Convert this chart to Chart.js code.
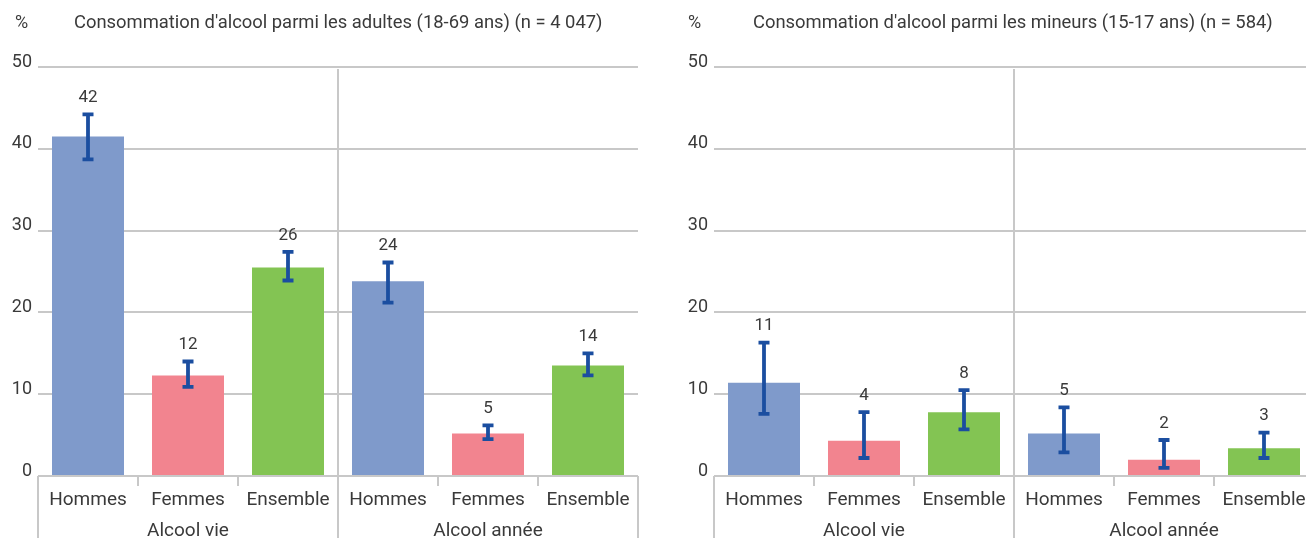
<!DOCTYPE html>
<html lang="fr">
<head>
<meta charset="utf-8">
<title>Consommation d'alcool</title>
<script src="https://cdn.jsdelivr.net/npm/chart.js@4/dist/chart.umd.min.js"></script>
<style>
  html, body { margin: 0; padding: 0; background: #fff; overflow: hidden; width: 1306px; height: 540px; }
  .panel { position: absolute; top: 0; }
</style>
</head>
<body>
<canvas id="adultes" class="panel" width="660" height="540" style="left:0px"></canvas>
<canvas id="mineurs" class="panel" width="660" height="540" style="left:676px"></canvas>
<script>
// Categories and groups of the two-level x axis
const categories = ['Hommes', 'Femmes', 'Ensemble'];
const groups = ['Alcool vie', 'Alcool année'];
const yTicks = [0, 10, 20, 30, 40, 50];

// Adults (18-69 years): percentages and confidence intervals
const adultValues = [41.5, 12.3, 25.5, 23.8, 5.2, 13.5];
const adultLow    = [38.7, 10.9, 23.9, 21.2, 4.5, 12.3];
const adultHigh   = [44.2, 14.0, 27.4, 26.1, 6.2, 15.0];

// Minors (15-17 years): percentages and confidence intervals
const minorValues = [11.4, 4.3, 7.8, 5.2, 2.0, 3.4];
const minorLow    = [7.6, 2.2, 5.7, 2.9, 1.0, 2.2];
const minorHigh   = [16.3, 7.8, 10.5, 8.4, 4.4, 5.3];

const barColors = ['#7f9acb', '#f2848f', '#83c453'];
const errColor = '#1b4ea0';
const textColor = '#3a3a3a';
const gridColor = '#c8c8c8';
const FONT = 'Roboto, "Noto Sans", sans-serif';

// Plugin: title line, error bars, value labels and the grouped axis decoration
const decor = {
  id: 'decor',
  afterDatasetsDraw(chart, args, opts) {
    const ctx = chart.ctx;
    const y = chart.scales.y;
    const meta = chart.getDatasetMeta(0);
    ctx.save();
    // error bars
    ctx.strokeStyle = errColor;
    ctx.lineWidth = 3.8;
    meta.data.forEach((bar, i) => {
      const yl = y.getPixelForValue(opts.low[i]);
      const yh = y.getPixelForValue(opts.high[i]);
      ctx.beginPath();
      ctx.moveTo(bar.x, yl); ctx.lineTo(bar.x, yh);
      ctx.moveTo(bar.x - 5.5, yl); ctx.lineTo(bar.x + 5.5, yl);
      ctx.moveTo(bar.x - 5.5, yh); ctx.lineTo(bar.x + 5.5, yh);
      ctx.stroke();
    });
    // value labels above the error bars
    ctx.fillStyle = textColor;
    ctx.font = '17px ' + FONT;
    ctx.textAlign = 'center';
    ctx.textBaseline = 'bottom';
    const values = chart.data.datasets[0].data;
    meta.data.forEach((bar, i) => {
      const yh = y.getPixelForValue(opts.high[i]);
      ctx.fillText(String(Math.round(values[i])), bar.x, yh - 8);
    });
    ctx.restore();
  },
  afterDraw(chart, args, opts) {
    const ctx = chart.ctx;
    const x = chart.scales.x;
    const area = chart.chartArea;
    const n = chart.data.labels.length;
    ctx.save();
    // axis ticks between categories and group separators
    ctx.strokeStyle = gridColor;
    ctx.lineWidth = 2;
    const bounds = [];
    for (let i = 0; i <= n; i++) {
      if (i === 0) bounds.push(x.left);
      else if (i === n) bounds.push(x.right);
      else bounds.push((x.getPixelForValue(i - 1) + x.getPixelForValue(i)) / 2);
    }
    bounds.forEach((bx, i) => {
      const px = Math.round(bx);
      ctx.beginPath();
      if (i % categories.length === 0) {
        const top = (i === 0 || i === n) ? area.bottom : area.top + 2;
        ctx.moveTo(px, top);
        ctx.lineTo(px, chart.height - 2);
      } else {
        ctx.moveTo(px, area.bottom);
        ctx.lineTo(px, area.bottom + 10);
      }
      ctx.stroke();
    });
    // group labels
    ctx.fillStyle = textColor;
    ctx.font = '19px ' + FONT;
    ctx.textAlign = 'center';
    ctx.textBaseline = 'middle';
    groups.forEach((g, gi) => {
      const c = (bounds[gi * categories.length] + bounds[(gi + 1) * categories.length]) / 2;
      ctx.fillText(g, c, 531);
    });
    // unit and title
    ctx.textAlign = 'left';
    ctx.font = '18px ' + FONT;
    ctx.fillText('%', opts.unitX, 23);
    ctx.font = '18.4px ' + FONT;
    ctx.fillText(opts.title, opts.titleX, 23);
    ctx.restore();
  }
};

function makeChart(id, values, low, high, title, unitX, titleX) {
  const labels = [];
  const colors = [];
  groups.forEach(() => categories.forEach((c, i) => { labels.push(c); colors.push(barColors[i]); }));
  return new Chart(document.getElementById(id), {
    type: 'bar',
    data: {
      labels: labels,
      datasets: [{
        data: values,
        backgroundColor: colors,
        borderWidth: 0,
        categoryPercentage: 1,
        barPercentage: 0.72
      }]
    },
    options: {
      responsive: false,
      animation: false,
      layout: { padding: { top: 67, left: 0, right: 22, bottom: 0 } },
      plugins: {
        legend: { display: false },
        tooltip: { enabled: false },
        decor: { low: low, high: high, title: title, unitX: unitX, titleX: titleX }
      },
      scales: {
        x: {
          grid: { display: false, drawTicks: false },
          border: { display: false },
          ticks: {
            color: textColor,
            font: { family: FONT, size: 19 },
            padding: 13,
            autoSkip: false,
            maxRotation: 0
          },
          afterFit(scale) { scale.height = 540 - 476; }
        },
        y: {
          min: 0, max: 50,
          afterBuildTicks(scale) { scale.ticks = yTicks.map(v => ({ value: v })); },
          grid: { color: gridColor, lineWidth: 2, drawTicks: false },
          border: { display: false },
          ticks: {
            color: textColor,
            font: { family: FONT, size: 18 },
            padding: 6,
            labelOffset: -5
          },
          afterFit(scale) { scale.width = 38; }
        }
      }
    },
    plugins: [decor]
  });
}

makeChart('adultes', adultValues, adultLow, adultHigh,
  "Consommation d'alcool parmi les adultes (18-69 ans) (n = 4 047)", 15, 74);
makeChart('mineurs', minorValues, minorLow, minorHigh,
  "Consommation d'alcool parmi les mineurs (15-17 ans) (n = 584)", 12, 77);
</script>
</body>
</html>
